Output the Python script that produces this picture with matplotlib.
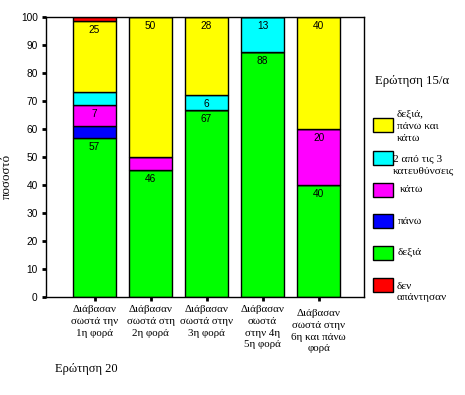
import matplotlib
matplotlib.use("Agg")
import matplotlib.pyplot as plt
from matplotlib.patches import Rectangle
from matplotlib.transforms import ScaledTranslation

categories = ["Διάβασαν\nσωστά την\n1η φορά",
              "Διάβασαν\nσωστά στη\n2η φορά",
              "Διάβασαν\nσωστά στην\n3η φορά",
              "Διάβασαν\nσωστά\nστην 4η\n5η φορά",
              "Διάβασαν\nσωστά στην\n6η και πάνω\nφορά"]

# stacked bottom -> top
dexia = [56.8, 45.5, 66.7, 87.5, 40.0]
pano = [4.3, 0.0, 0.0, 0.0, 0.0]
kato = [7.4, 4.5, 0.0, 0.0, 20.0]
dyo_apo_3 = [4.6, 0.0, 5.6, 12.5, 0.0]
dexia_pano_kato = [25.3, 50.0, 27.7, 0.0, 40.0]
den_apantisan = [1.6, 0.0, 0.0, 0.0, 0.0]

series_names = ["δεξιά", "πάνω", "κάτω", "2 από τις 3\nκατευθύνσεις",
                "δεξιά,\nπάνω και\nκάτω", "δεν\nαπάντησαν"]
series_values = [dexia, pano, kato, dyo_apo_3, dexia_pano_kato, den_apantisan]
series_colors = ["#00FF00", "#0000FF", "#FF00FF", "#00FFFF", "#FFFF00", "#FF0000"]

legend_order = [4, 3, 2, 1, 0, 5]
legend_title = "Ερώτηση 15/α"
x_title = "Ερώτηση 20"
y_title = "ποσοστό"
yticks = [0, 10, 20, 30, 40, 50, 60, 70, 80, 90, 100]

serif = "Liberation Serif"
sans = "Liberation Sans"

fig = plt.figure(figsize=(4.65, 3.95), dpi=100)
W, H = 465, 395
ax = fig.add_axes([46 / W, 1 - 297 / H, 318 / W, 280 / H])

xs = list(range(len(categories)))
bottoms = [0.0] * len(categories)
for vals, col in zip(series_values, series_colors):
    ax.bar(xs, vals, width=0.78, bottom=bottoms, color=col,
           edgecolor="black", linewidth=1.0, zorder=2)
    for i, v in enumerate(vals):
        if v >= 5:
            top = bottoms[i] + v
            ax.annotate(str(int(v + 0.5)), xy=(xs[i], top),
                        xytext=(0, -4), textcoords="offset pixels",
                        ha="center", va="top", fontsize=7.3,
                        family=sans, zorder=3)
    bottoms = [b + v for b, v in zip(bottoms, vals)]

ax.set_xlim(-0.866, 4.81)
ax.set_ylim(0, 100)
ax.set_yticks(yticks)
ax.set_yticklabels([str(t) for t in yticks], fontsize=7.3, family=sans)
ax.set_xticks(xs)
ax.set_xticklabels(categories, fontsize=7.9, family=serif,
                   linespacing=1.42, va="top")
ax.tick_params(axis="y", direction="out", length=3, width=2, pad=3)
ax.tick_params(axis="x", direction="out", length=3, width=2, pad=2.5)
last = ax.get_xticklabels()[-1]
last.set_transform(last.get_transform() +
                   ScaledTranslation(0, -4 / 100, fig.dpi_scale_trans))
for s in ax.spines.values():
    s.set_linewidth(1.0)
    s.set_color("black")

fig.text(7 / W, 1 - 176 / H, y_title, rotation=90, ha="center", va="center",
         fontsize=9.3, family=serif)
fig.text(55 / W, 1 - 369 / H, x_title, ha="left", va="center",
         fontsize=9, family=serif)

# legend (manual)
fig.text(375 / W, 1 - 81 / H, legend_title, ha="left", va="center",
         fontsize=9.2, family=serif)
box_centers = [125, 157.5, 189.5, 221, 252.5, 285]
text_x = [397, 392.5, 400, 398, 398, 397]
text_dy = [1, 7, 0, 0, 0, 7]
for k, idx in enumerate(legend_order):
    yc = box_centers[k]
    fig.add_artist(Rectangle((373 / W, 1 - (yc + 7) / H), 20 / W, 14 / H,
                             facecolor=series_colors[idx], edgecolor="black",
                             linewidth=1.0, transform=fig.transFigure))
    fig.text(text_x[k] / W, 1 - (yc + text_dy[k]) / H, series_names[idx],
             ha="left", va="center", fontsize=8.2, family=serif,
             linespacing=1.42)

fig.savefig("out.png", dpi=100)
